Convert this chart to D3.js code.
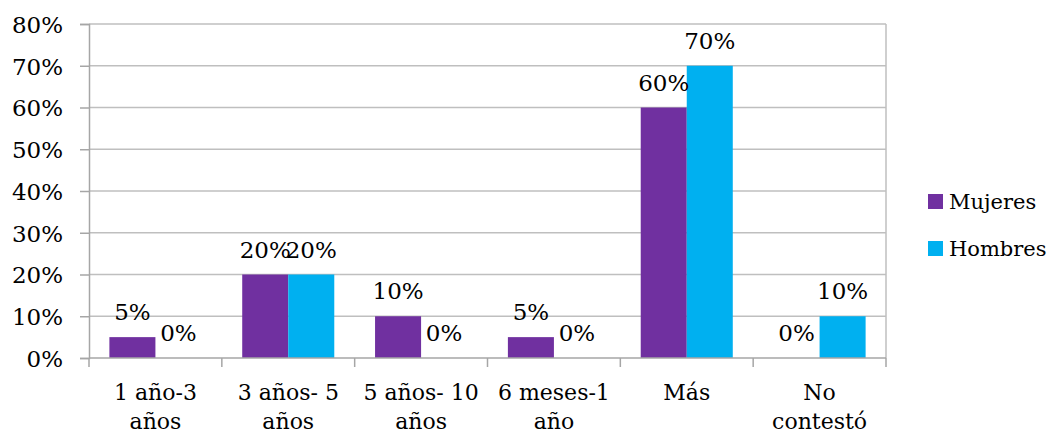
<!DOCTYPE html>
<html><head><meta charset="utf-8">
<script src="https://cdn.jsdelivr.net/npm/d3@7"></script>
<style>body{margin:0;background:#fff}svg{display:block}text{font-family:"DejaVu Serif",serif;fill:#000}</style>
</head><body><svg id="c" width="1054" height="434"></svg>
<script>
const categories = [["1 año-3","años"],["3 años- 5","años"],["5 años- 10","años"],["6 meses-1","año"],["Más"],["No","contestó"]];
const seriesNames = ["Mujeres","Hombres"];
const mujeres = [5,20,10,5,60,0];
const hombres = [0,20,0,0,70,10];
const yTicks = [0,10,20,30,40,50,60,70,80];
const colors = ["#7030A0","#00B0F0"];

const svg = d3.select("#c");
const L=89, R=886, T=24, B=358;
const x0 = d3.scaleBand().domain(d3.range(categories.length)).range([L,R]).padding(0);
const x1 = d3.scaleBand().domain(seriesNames).range([0,x0.bandwidth()]).paddingInner(0).paddingOuter(0.443);
const y = d3.scaleLinear().domain([0,80]).range([B,T]);
const fs = 23;

svg.append("g").selectAll("line").data(yTicks.slice(1)).join("line")
  .attr("x1",L).attr("x2",R).attr("y1",d=>y(d)).attr("y2",d=>y(d))
  .attr("stroke","#bfbfbf").attr("stroke-width",1.5);
svg.append("line").attr("x1",R).attr("x2",R).attr("y1",T).attr("y2",B).attr("stroke","#bfbfbf").attr("stroke-width",1.5);

const ya = svg.append("g").attr("transform",`translate(${L},0)`)
  .call(d3.axisLeft(y).tickValues(yTicks).tickFormat(d=>d+"%").tickSize(9).tickPadding(17));
ya.select(".domain").attr("stroke","#a6a6a6").attr("stroke-width",1.5);
ya.selectAll(".tick line").attr("stroke","#a6a6a6").attr("stroke-width",1.5);
ya.selectAll("text").style("font-size",fs+"px").attr("dy","0.36em");

const data = categories.map((c,i)=>({i, vals:[mujeres[i],hombres[i]]}));
const g = svg.append("g").selectAll("g").data(data).join("g").attr("transform",d=>`translate(${x0(d.i)},0)`);
g.selectAll("rect").data(d=>d.vals.map((v,k)=>({v,k}))).join("rect")
  .attr("x",d=>x1(seriesNames[d.k])).attr("width",x1.bandwidth())
  .attr("y",d=>y(d.v)).attr("height",d=>B-y(d.v)).attr("fill",d=>colors[d.k]);
g.selectAll("text.v").data(d=>d.vals.map((v,k)=>({v,k}))).join("text").attr("class","v")
  .attr("x",d=>x1(seriesNames[d.k])+x1.bandwidth()/2).attr("y",d=>y(d.v)-17)
  .attr("text-anchor","middle").style("font-size",fs+"px").text(d=>d.v+"%");

const xa = svg.append("g").attr("transform",`translate(0,${B})`);
xa.append("line").attr("x1",L).attr("x2",R).attr("stroke","#a6a6a6").attr("stroke-width",1.5);
const bounds = d3.range(categories.length+1).map(i=> i<categories.length? x0(i): R);
xa.selectAll("line.t").data(bounds).join("line").attr("class","t")
  .attr("x1",d=>d).attr("x2",d=>d).attr("y1",0).attr("y2",9).attr("stroke","#a6a6a6").attr("stroke-width",1.5);
xa.selectAll("text.c").data(categories).join("text").attr("class","c")
  .attr("text-anchor","middle").style("font-size","22px")
  .attr("transform",(d,i)=>`translate(${x0(i)+x0.bandwidth()/2},0)`)
  .selectAll("tspan").data(d=>d).join("tspan").attr("x",0).attr("y",(d,j)=>42+j*29).text(d=>d);

const lg = svg.append("g").selectAll("g").data(seriesNames).join("g")
  .attr("transform",(d,i)=>`translate(928,${194+i*47})`);
lg.append("rect").attr("width",15).attr("height",15).attr("fill",(d,i)=>colors[i]);
lg.append("text").attr("x",21).attr("y",15).style("font-size","21px").text(d=>d);
</script></body></html>
